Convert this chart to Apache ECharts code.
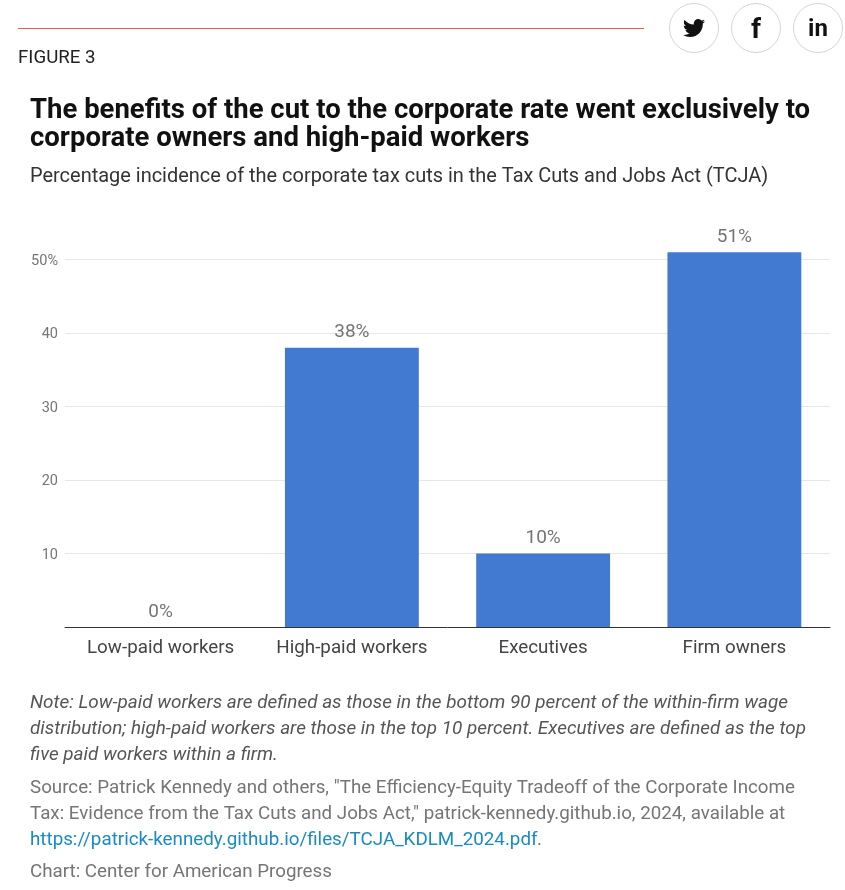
<!DOCTYPE html>
<html><head><meta charset="utf-8">
<style>html,body{margin:0;padding:0;background:#fff}#c{width:845px;height:890px}</style>
<script src="https://cdn.jsdelivr.net/npm/echarts@6/dist/echarts.min.js"></script></head>
<body><div id="c"></div>
<script>
const categories = ["Low-paid workers", "High-paid workers", "Executives", "Firm owners"];
const values = [0, 38, 10, 51];
const titleLines = ["The benefits of the cut to the corporate rate went exclusively to", "corporate owners and high-paid workers"];
const subtitle = "Percentage incidence of the corporate tax cuts in the Tax Cuts and Jobs Act (TCJA)";
const noteLines = ["Note: Low-paid workers are defined as those in the bottom 90 percent of the within-firm wage", "distribution; high-paid workers are those in the top 10 percent. Executives are defined as the top", "five paid workers within a firm."];
const sourceLines = ["Source: Patrick Kennedy and others, \"The Efficiency-Equity Tradeoff of the Corporate Income", "Tax: Evidence from the Tax Cuts and Jobs Act,\" patrick-kennedy.github.io, 2024, available at"];
const sourceLink = "https://patrick-kennedy.github.io/files/TCJA_KDLM_2024.pdf";
const credit = "Chart: Center for American Progress";
const F = "Roboto, sans-serif";
const BIRD = "M23.953 4.57a10 10 0 0 1 -2.825.775 4.958 4.958 0 0 0 2.163-2.723c-.951.555-2.005.959-3.127 1.184a4.92 4.92 0 0 0 -8.384 4.482C7.69 8.095 4.067 6.13 1.64 3.162a4.822 4.822 0 0 0 -.666 2.475c0 1.71.87 3.213 2.188 4.096a4.904 4.904 0 0 1 -2.228-.616v.06a4.923 4.923 0 0 0 3.946 4.827 4.996 4.996 0 0 1 -2.212.085 4.936 4.936 0 0 0 4.604 3.417 9.867 9.867 0 0 1 -6.102 2.105c-.39 0-.779-.023-1.17-.067a13.995 13.995 0 0 0 7.557 2.209c9.053 0 13.998-7.496 13.998-13.985 0-.21 0-.42-.015-.63A9.935 9.935 0 0 0 24 4.59z";
echarts.graphic.registerShape("bird", echarts.graphic.extendPath(BIRD, {}));
function txt(x, y, text, size, color, extra) {
  return { type: "text", x, y, silent: true, style: Object.assign({ text, fontFamily: F, fontSize: size, fill: color, verticalAlign: "middle" }, extra || {}) };
}
const g = [];
g.push({ type: "rect", silent: true, shape: { x: 18, y: 28, width: 626, height: 1 }, style: { fill: "#e0604f" } });
[694, 756, 818].forEach(cx => g.push({ type: "circle", silent: true, shape: { cx, cy: 28, r: 24.5 }, style: { fill: "#fff", stroke: "#d4d4d4", lineWidth: 1 } }));
g.push({ type: "bird", silent: true, x: 683, y: 17, scaleX: 0.92, scaleY: 0.92, style: { fill: "#111" } });
g.push(txt(756, 30.5, "f", 28, "#111", { fontWeight: 700, align: "center" }));
g.push(txt(818, 30, "in", 24, "#111", { fontWeight: 700, align: "center" }));
g.push(txt(18, 58.5, "FIGURE 3", 18.7, "#222"));
titleLines.forEach((t, i) => g.push(txt(30, 111 + i * 28, t, 27.5, "#111", { fontWeight: 700 })));
g.push(txt(30, 177, subtitle, 19.97, "#333"));
noteLines.forEach((t, i) => g.push(txt(30, 703 + i * 26, t, 18.9, "#555", { fontStyle: "italic" })));
sourceLines.forEach((t, i) => g.push(txt(30, 788 + i * 26, t, 18.76, "#757575")));
g.push(txt(30, 840, sourceLink, 18.8, "#1a8ac4"));
g.push(txt(537, 840, ".", 18.75, "#757575"));
g.push(txt(30, 872, credit, 18.75, "#757575"));

const chart = echarts.init(document.getElementById("c"), null, { renderer: "canvas" });
chart.setOption({
  animation: false,
  backgroundColor: "#fff",
  grid: { left: 65, right: 15, top: 186, bottom: 263 },
  xAxis: {
    type: "category", data: categories,
    axisTick: { show: false },
    axisLine: { lineStyle: { color: "#333", width: 1 } },
    axisLabel: { color: "#444", fontFamily: F, fontSize: 18.8, margin: 12, interval: 0, hideOverlap: false }
  },
  yAxis: {
    type: "value", min: 0, max: 60, interval: 10,
    axisLine: { show: false }, axisTick: { show: false },
    axisLabel: { margin: 7, showMinLabel: false, showMaxLabel: false,
      formatter: v => "{t|" + (v === 50 ? "50%" : String(v)) + "}",
      rich: { t: { color: "#757575", fontFamily: F, fontSize: 14.5, padding: [3, 0, 0, 0] } } },
    splitLine: { show: true, showMinLine: false, showMaxLine: false, lineStyle: { color: "#e6e6e6", width: 1 } }
  },
  series: [{
    type: "bar", data: values, barWidth: "70%",
    itemStyle: { color: "#4279d1" },
    label: { show: true, position: "top", distance: 5.5, formatter: "{c}%", color: "#757575", fontFamily: F, fontSize: 19 }
  }],
  graphic: g
});
</script></body></html>
